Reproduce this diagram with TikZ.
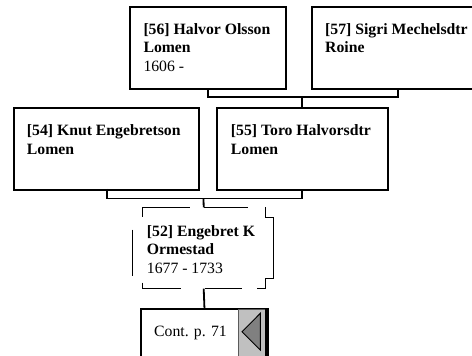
\documentclass[tikz,border=0pt]{standalone}
\usepackage{fontspec}
\setmainfont{Liberation Serif}
\begin{document}
\begin{tikzpicture}[x=1bp,y=-1bp,
  pbox/.style={draw=black,line width=1.9bp,rectangle,inner sep=0,anchor=north west},
  ghost/.style={rectangle,inner sep=0,anchor=north west},
  conn/.style={draw=black,line width=1.8bp},
  dashbox/.style={draw=black,line width=0.9bp},
  ptext/.style={anchor=north west,inner sep=0,align=left,font=\fontsize{15.8}{18.4}\selectfont}]
\useasboundingbox (0,0) rectangle (472,355);
% boxes
\node[pbox,minimum width=155.4bp,minimum height=81.7bp] (p56) at (129.3,6) {};
\node[pbox,minimum width=172bp,minimum height=81.7bp] (p57) at (311,6) {};
\node[pbox,minimum width=185bp,minimum height=82bp] (p54) at (12.7,107) {};
\node[pbox,minimum width=170.7bp,minimum height=82bp] (p55) at (216,107) {};
\node[ghost,minimum width=123bp,minimum height=81bp] (p52) at (142,207.3) {};
\node[pbox,minimum width=127bp,minimum height=60bp] (cont) at (140,308.3) {};
% texts (top = baseline - 0.7*baselineskip)
\node[ptext] (t56) at (143.3,21.6) {\strut\textbf{[56] Halvor Olsson}\\\textbf{Lomen}\\1606 -};
\node[ptext] (t57) at (325,21.6) {\strut\textbf{[57] Sigri Mechelsdtr}\\\textbf{Roine}};
\node[ptext] (t54) at (26.7,122.8) {\strut\textbf{[54] Knut Engebretson}\\\textbf{Lomen}};
\node[ptext] (t55) at (230.7,122.8) {\strut\textbf{[55] Toro Halvorsdtr}\\\textbf{Lomen}};
\node[ptext] (t52) at (146.7,223.4) {\strut\textbf{[52] Engebret K}\\\textbf{Ormestad}\\1677 - 1733};
\node[ptext] (tc) at (154,323.7) {\strut Cont. p. 71};
% dashed (broken) box of 52
\draw[dashbox] (142,216.7) -- (142,207.3) -- (189.7,207.3);
\draw[dashbox] (203.5,207.3) -- (248.3,207.3);
\draw[dashbox] (265,207.3) -- (265,217.3) -- (273.3,217.3) -- (273.3,278.3) -- (265,278.3) -- (265,288.3) -- (257.3,288.3);
\draw[dashbox] (132,229.5) -- (132,275.5);
\draw[dashbox] (142,282.7) -- (142,288.3) -- (181.3,288.3);
\draw[dashbox] (205,288.3) -- (241.7,288.3);
% connectors
\coordinate (j1) at (302,96.7);
\draw[conn] (p56.south) |- (j1) -| (p57.south);
\draw[conn] (j1) -- (j1 |- p55.north);
\coordinate (j2) at (203.5,198.5);
\draw[conn] (106.7,188.8) |- (j2) -| (302,188.8);
\draw[conn] (j2) -- (p52.north);
\draw[conn] (p52.south) -- (cont.north);
% continuation marker
\fill[fill={rgb,255:red,192;green,192;blue,192},draw={rgb,255:red,90;green,90;blue,90},line width=0.8bp] (238.5,309.2) rectangle (265.5,356);
\filldraw[fill={rgb,255:red,128;green,128;blue,128},draw=black,line width=0.9bp] (242,331.7) -- (260.3,313.3) -- (260.3,350) -- cycle;
\draw[black,line width=1.9bp] (266.1,308.3) -- (266.1,360);
\end{tikzpicture}
\end{document}
